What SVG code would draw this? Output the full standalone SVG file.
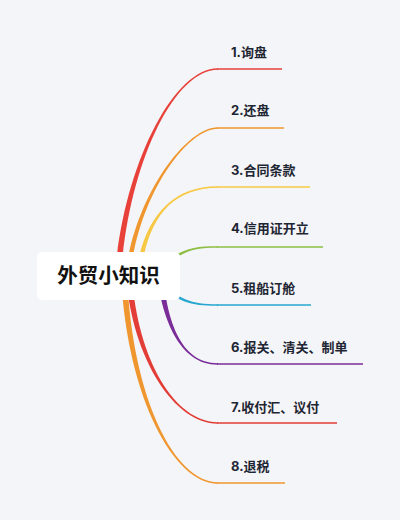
<svg xmlns="http://www.w3.org/2000/svg" width="400" height="520" viewBox="0 0 400 520">
<style>
.lbl{font-family:Inter,"Noto Sans CJK SC",sans-serif;font-weight:700;font-size:13px;fill:#1f2633}
.root{font-family:"Noto Sans CJK SC",sans-serif;font-weight:700;font-size:20.5px;fill:#111111}
.h{fill:none;stroke-width:1.5}
</style>
<rect x="0" y="0" width="400" height="520" fill="#f4f5f8"/>
<g id="connectors">
<path d="M115,276 C122.5,170 172,68 218,68.25 L218,69.75 C172,70 127.5,170 121,276 Z" fill="#e8413a"/>
<line class="h" x1="217" y1="69" x2="282" y2="69" stroke="#e8413a"/>
<path d="M125.5,276 C133,200 185,127 218,127.25 L218,128.75 C185,129 137,200 130.5,276 Z" fill="#f0962e"/>
<line class="h" x1="217" y1="128" x2="284" y2="128" stroke="#f0962e"/>
<path d="M135.5,276 C143,220 170,186 218,186.25 L218,187.75 C170,188 147,220 140.5,276 Z" fill="#f7c843"/>
<line class="h" x1="217" y1="187" x2="310" y2="187" stroke="#f7c843"/>
<path d="M148.7,274.5 C179,248.8 190,246.2 218,246.25 L218,247.75 C190,247.8 181,251.2 151.3,277.5 Z" fill="#8dbf45"/>
<line class="h" x1="217" y1="247" x2="323" y2="247" stroke="#8dbf45"/>
<path d="M151.3,274.5 C181,300.8 190,304.2 218,304.25 L218,305.75 C190,305.8 179,303.2 148.7,277.5 Z" fill="#27a6cf"/>
<line class="h" x1="217" y1="305" x2="311" y2="305" stroke="#27a6cf"/>
<path d="M157,276 C162.5,320 180,365 218,364.75 L218,363.25 C180,363 167.5,320 163,276 Z" fill="#7a2d98"/>
<line class="h" x1="217" y1="364" x2="363" y2="364" stroke="#7a2d98"/>
<path d="M126,276 C132.5,360 175,424 218,423.75 L218,422.25 C175,422 137.5,360 132,276 Z" fill="#e23d36"/>
<line class="h" x1="217" y1="423" x2="337" y2="423" stroke="#e23d36"/>
<path d="M121,276 C127.5,400 175,484 218,483.75 L218,482.25 C175,482 132.5,400 127,276 Z" fill="#f0962e"/>
<line class="h" x1="217" y1="483" x2="285" y2="483" stroke="#f0962e"/>
</g>
<g id="root">
<rect x="37" y="252" width="143" height="48" rx="5" fill="#ffffff"/>
<text class="root" x="108.5" y="283" text-anchor="middle">外贸小知识</text>
</g>
<g id="n1"><text class="lbl" x="231" y="57">1.询盘</text></g>
<g id="n2"><text class="lbl" x="231" y="115">2.还盘</text></g>
<g id="n3"><text class="lbl" x="231" y="175">3.合同条款</text></g>
<g id="n4"><text class="lbl" x="231" y="233">4.信用证开立</text></g>
<g id="n5"><text class="lbl" x="231" y="293">5.租船订舱</text></g>
<g id="n6"><text class="lbl" x="231" y="352">6.报关、清关、制单</text></g>
<g id="n7"><text class="lbl" x="231" y="412">7.收付汇、议付</text></g>
<g id="n8"><text class="lbl" x="231" y="471">8.退税</text></g>
</svg>
